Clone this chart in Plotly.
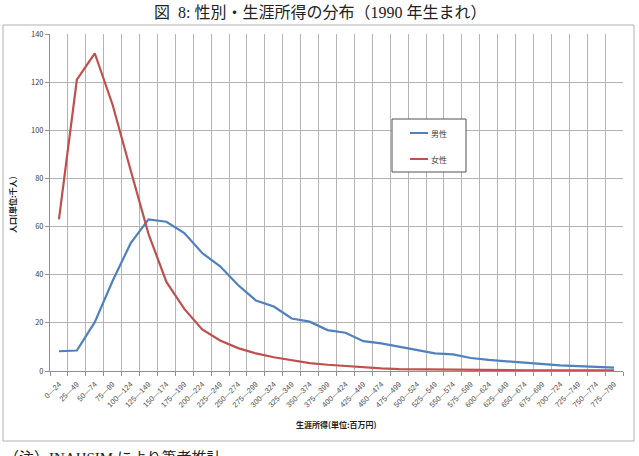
import plotly.graph_objects as go

categories = ["0—24","25—49","50—74","75—99","100—124","125—149","150—174","175—199",
              "200—224","225—249","250—274","275—299","300—324","325—349","350—374","375—399",
              "400—424","425—449","450—474","475—499","500—524","525—549","550—574","575—599",
              "600—624","625—649","650—674","675—699","700—724","725—749","750—774","775—799"]
male = [8.2, 8.5, 20.3, 37.5, 53, 63, 62, 57.3, 49, 43.5, 35.7, 29.3, 26.8, 21.8, 20.5, 17,
        15.9, 12.4, 11.5, 10, 8.8, 7.3, 6.9, 5.4, 4.6, 4.0, 3.4, 2.6, 2.3, 2.0, 1.7, 1.4]
female = [63, 121, 132, 110.5, 83.5, 57, 37, 25.8, 17.3, 12.7, 9.5, 7.3, 5.7, 4.4, 3.3, 2.6,
          2.0, 1.6, 1.1, 0.8, 0.7, 0.6, 0.5, 0.4, 0.4, 0.3, 0.3, 0.3, 0.3, 0.3, 0.3, 0.3]
names = ["男性", "女性"]
colors = ["#4f81bd", "#c0504d"]
title = "図  8: 性別・生涯所得の分布（1990 年生まれ）"
xtitle = "生涯所得(単位:百万円)"
ytitle = "人口(単位:千人)"
note = "（注）INAHSIM により筆者推計"

W, H = 639, 456
L, R, T, B = 50, 16, 34, 85
pw, ph = W - L - R, H - T - B

def px(x):
    return (x - L) / pw

def py(y):
    return (H - B - y) / ph

fig = go.Figure()
for vals, nm, c in zip([male, female], names, colors):
    fig.add_trace(go.Scatter(x=categories, y=vals, mode="lines", name=nm,
                             line=dict(color=c, width=2.2), showlegend=False))

font_cjk = "Noto Sans CJK JP, sans-serif"
fig.update_layout(
    width=W, height=H,
    margin=dict(l=L, r=R, t=T, b=B),
    paper_bgcolor="white", plot_bgcolor="white",
    font=dict(family=font_cjk, color="#404040"),
    xaxis=dict(type="category", tickson="boundaries", showgrid=True, gridcolor="#b4b4b4",
               gridwidth=1, ticks="outside", ticklen=4, tickcolor="#909090",
               showline=True, linecolor="#909090", tickangle=-45, ticklabelstandoff=5,
               tickfont=dict(size=7.5, color="#505050", family="Liberation Sans, Noto Sans CJK JP"),
               range=[-0.5, 31.5]),
    yaxis=dict(range=[0, 140], dtick=20, showgrid=True, gridcolor="#b4b4b4", gridwidth=1,
               ticks="outside", ticklen=4, tickcolor="#909090", showline=True,
               linecolor="#909090", tickfont=dict(size=7.5, color="#404040"), zeroline=False),
)

shapes = []
# outer chart frame
shapes.append(dict(type="rect", xref="paper", yref="paper", x0=px(3), x1=px(634),
                   y0=py(441), y1=py(25), line=dict(color="#b0b0b0", width=1)))
# legend box
shapes.append(dict(type="rect", xref="paper", yref="paper", x0=px(392), x1=px(466),
                   y0=py(172), y1=py(119), line=dict(color="#505050", width=1),
                   fillcolor="white", layer="above"))
ann = []
for i, (nm, c) in enumerate(zip(names, colors)):
    yy = 133 + i * 26
    shapes.append(dict(type="line", xref="paper", yref="paper", x0=px(410), x1=px(428),
                       y0=py(yy), y1=py(yy), line=dict(color=c, width=2), layer="above"))
    ann.append(dict(text=nm, xref="paper", yref="paper", x=px(429), y=py(yy),
                    xanchor="left", yanchor="middle", showarrow=False,
                    font=dict(size=8, color="#404040")))
ann.append(dict(text=title, xref="paper", yref="paper", x=px(320), y=py(13),
                xanchor="center", yanchor="middle", showarrow=False,
                font=dict(size=16, color="#222", family="Liberation Serif, Noto Sans CJK JP")))
ann.append(dict(text="<b>" + xtitle + "</b>", xref="paper", yref="paper", x=px(336), y=py(424),
                xanchor="center", yanchor="middle", showarrow=False,
                font=dict(size=8, color="#222")))
ann.append(dict(text="<b>" + ytitle + "</b>", xref="paper", yref="paper", x=px(12), y=py(205),
                xanchor="center", yanchor="middle", showarrow=False, textangle=-90,
                font=dict(size=8, color="#222")))
ann.append(dict(text=note, xref="paper", yref="paper", x=px(2), y=py(448),
                xanchor="left", yanchor="top", showarrow=False,
                font=dict(size=15, color="#222", family="Liberation Serif, Noto Sans CJK JP")))
fig.update_layout(shapes=shapes, annotations=ann)
fig.write_html("out.html")
